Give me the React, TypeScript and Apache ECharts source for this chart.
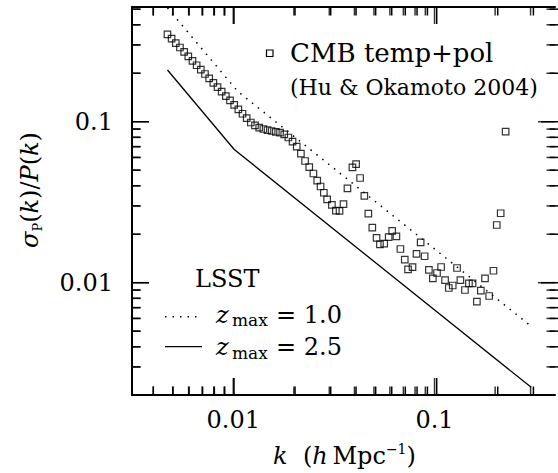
import React, { useEffect, useRef } from 'react';
import * as echarts from 'echarts';

// CMB temp+pol forecast (Hu & Okamoto 2004)
const cmbK = [
  0.004709, 0.004938, 0.00518, 0.005433, 0.005699, 0.005977, 0.00627, 0.006576, 0.006898, 0.007235,
  0.007589, 0.00796, 0.008349, 0.008757, 0.009185, 0.009632, 0.010102, 0.010597, 0.011114, 0.011657,
  0.012227, 0.012823, 0.013451, 0.014109, 0.014798, 0.015521, 0.016278, 0.017076, 0.017909, 0.018785,
  0.019702, 0.020664, 0.021677, 0.022735, 0.023845, 0.02501,
  0.02612, 0.02714, 0.02818, 0.02926, 0.0309, 0.03234, 0.03372, 0.03528, 0.03692, 0.03908,
  0.04076, 0.04266, 0.04479, 0.04688, 0.04906, 0.05151, 0.05354, 0.05622, 0.05917, 0.06157,
  0.06465, 0.06766, 0.07112, 0.07384, 0.07772, 0.08133, 0.0853, 0.08927, 0.09373, 0.09809,
  0.10287, 0.1078, 0.1128, 0.1177, 0.1231, 0.1293, 0.1344, 0.1416, 0.1482, 0.1545,
  0.1623, 0.1698, 0.1781, 0.1868, 0.1962, 0.2037, 0.2131, 0.2255,
];
const cmbSigma = [
  0.349, 0.3278, 0.3078, 0.289, 0.2714, 0.2544, 0.2389, 0.2243, 0.2107, 0.1979,
  0.1857, 0.1744, 0.1638, 0.1538, 0.1444, 0.1356, 0.1274, 0.1194, 0.1121, 0.1054,
  0.0989, 0.095, 0.092, 0.0901, 0.0886, 0.0876, 0.0866, 0.0856, 0.0835, 0.0798,
  0.0753, 0.0701, 0.0634, 0.057, 0.0523, 0.0477, 0.0431, 0.0396, 0.0362, 0.0329,
  0.0304, 0.028, 0.0279, 0.0308, 0.0386, 0.0521, 0.0546, 0.0447, 0.0346, 0.0269,
  0.022, 0.019, 0.0173, 0.0175, 0.0192, 0.021, 0.0194, 0.0162, 0.0139, 0.0121,
  0.0125, 0.0151, 0.0178, 0.0146, 0.012, 0.01065, 0.01149, 0.01252, 0.01039, 0.00927,
  0.00961, 0.01234, 0.01039, 0.00901, 0.00992, 0.00992, 0.00762, 0.00892, 0.01065, 0.00827,
  0.01187, 0.02283, 0.027, 0.0867,
];

// LSST, z_max = 1.0 (dotted)
const lsst10K = [0.00471, 0.01051, 0.3];
const lsst10Sigma = [0.51, 0.1545, 0.0054];
// LSST, z_max = 2.5 (solid)
const lsst25K = [0.00471, 0.01011, 0.302];
const lsst25Sigma = [0.2095, 0.0672, 0.00224];

// axes
const xMin = 0.003139;
const xMax = 0.3967;
const yMin = 0.002007;
const yMax = 0.5159;
const xTickValues = [0.01, 0.1];
const xTickLabels = ['0.01', '0.1'];
const yTickValues = [0.01, 0.1];
const yTickLabels = ['0.01', '0.1'];
const xMinorTicks = [0.004, 0.005, 0.006, 0.007, 0.008, 0.009, 0.02, 0.03, 0.04, 0.05, 0.06, 0.07, 0.08, 0.09, 0.2, 0.3];
const yMinorTicks = [
  0.003, 0.004, 0.005, 0.006, 0.007, 0.008, 0.009,
  0.02, 0.03, 0.04, 0.05, 0.06, 0.07, 0.08, 0.09,
  0.2, 0.3, 0.4, 0.5,
];

const FONT = "DejaVu Serif";
const W = 558;
const H = 473;
const GL = 132;
const GR = 0;
const GT = 7;
const GB = 78;
const MAJOR = 17;
const MINOR = 8.5;
const TW = 1.5;
const TC = '#000';

function makeFormatter(values: number[], labels: string[]) {
  return (v: number) => {
    for (let i = 0; i < values.length; i++) {
      if (Math.abs(Math.log10(v) - Math.log10(values[i])) < 1e-6) return labels[i];
    }
    return '';
  };
}

const txt = (x: number, y: number, text: string, font: string) => ({
  type: 'text', x, y, silent: true,
  style: { text, font, fill: '#000', align: 'left', verticalAlign: 'middle', textAlign: 'left', textVerticalAlign: 'middle' },
});

const tickSeries = (data: number[][], size: number[], offset: number[]) => ({
  type: 'scatter', silent: true, clip: false,
  data, symbol: 'rect', symbolSize: size, symbolOffset: offset,
  itemStyle: { color: TC },
});

export default function App() {
  const ref = useRef<HTMLDivElement>(null);

  useEffect(() => {
    if (!ref.current) return;
    const chart = echarts.init(ref.current, undefined, { renderer: 'svg' });

    const axisLine = { show: true, lineStyle: { color: '#000', width: 2 } };
    const labelStyle = { fontFamily: FONT, fontSize: 24, color: '#000' };

    // frame tick decorations (same log mapping as the axes)
    const left = GL, right = W - GR, top = GT, bottom = H - GB;
    const lx0 = Math.log10(xMin), lx1 = Math.log10(xMax);
    const ly0 = Math.log10(yMin), ly1 = Math.log10(yMax);
    const px = (v: number) => left + ((Math.log10(v) - lx0) / (lx1 - lx0)) * (right - left);
    const py = (v: number) => bottom - ((Math.log10(v) - ly0) / (ly1 - ly0)) * (bottom - top);
    const tickGraphics: any[] = [];
    const seg = (x1: number, y1: number, x2: number, y2: number) =>
      tickGraphics.push({ type: 'line', silent: true, shape: { x1, y1, x2, y2 }, style: { stroke: TC, lineWidth: TW } });
    const addX = (v: number, len: number) => { const x = px(v); seg(x, bottom, x, bottom - len); seg(x, top, x, top + len); };
    const addY = (v: number, len: number) => { const y = py(v); seg(left, y, left + len, y); seg(right, y, right - len, y); };
    xTickValues.forEach((v) => addX(v, MAJOR));
    xMinorTicks.forEach((v) => addX(v, MINOR));
    yTickValues.forEach((v) => addY(v, MAJOR));
    yMinorTicks.forEach((v) => addY(v, MINOR));

    const option: any = {
      animation: false,
      backgroundColor: '#fff',
      grid: { left: GL, right: GR, top: GT, bottom: GB, containLabel: false },
      xAxis: [
        {
          type: 'log', min: xMin, max: xMax, position: 'bottom',
          axisLine, axisTick: { show: false },
          axisLabel: { ...labelStyle, margin: 13, formatter: makeFormatter(xTickValues, xTickLabels) },
          splitLine: { show: false },
        },
        {
          type: 'log', min: xMin, max: xMax, position: 'top',
          axisLine, axisTick: { show: false }, axisLabel: { show: false }, splitLine: { show: false },
        },
      ],
      yAxis: [
        {
          type: 'log', min: yMin, max: yMax, position: 'left',
          axisLine, axisTick: { show: false },
          axisLabel: { ...labelStyle, margin: 19, formatter: makeFormatter(yTickValues, yTickLabels) },
          splitLine: { show: false },
        },
        {
          type: 'log', min: yMin, max: yMax, position: 'right',
          axisLine: { show: false }, axisTick: { show: false }, axisLabel: { show: false }, splitLine: { show: false },
        },
      ],
      series: [
        {
          type: 'line', name: 'zmax10',
          data: lsst10K.map((k, i) => [k, lsst10Sigma[i]]),
          showSymbol: false, symbol: 'none',
          lineStyle: { color: '#000', width: 1.5, type: [1.5, 6] },
        },
        {
          type: 'line', name: 'zmax25',
          data: lsst25K.map((k, i) => [k, lsst25Sigma[i]]),
          showSymbol: false, symbol: 'none',
          lineStyle: { color: '#000', width: 1.3 },
        },
        {
          type: 'scatter', name: 'CMB temp+pol',
          data: cmbK.map((k, i) => [k, cmbSigma[i]]),
          symbol: 'rect', symbolSize: 6.5,
          itemStyle: { color: 'rgba(255,255,255,0)', borderColor: '#000', borderWidth: 1.2 },
        },
        tickSeries(xTickValues.map((v) => [v, yMin]), [TW, MAJOR], [0, -MAJOR / 2]),
        tickSeries(xTickValues.map((v) => [v, yMax]), [TW, MAJOR], [0, MAJOR / 2]),
        tickSeries(yTickValues.map((v) => [xMin, v]), [MAJOR, TW], [MAJOR / 2, 0]),
        tickSeries(yTickValues.map((v) => [xMax, v]), [MAJOR, TW], [-MAJOR / 2, 0]),
        tickSeries(xMinorTicks.map((v) => [v, yMin]), [TW, MINOR], [0, -MINOR / 2]),
        tickSeries(xMinorTicks.map((v) => [v, yMax]), [TW, MINOR], [0, MINOR / 2]),
        tickSeries(yMinorTicks.map((v) => [xMin, v]), [MINOR, TW], [MINOR / 2, 0]),
        tickSeries(yMinorTicks.map((v) => [xMax, v]), [MINOR, TW], [-MINOR / 2, 0]),
      ],
      graphic: [
        ...tickGraphics,
        {
          type: 'rect', shape: { x: 266.5, y: 50, width: 6.5, height: 6.5 }, silent: true,
          style: { fill: 'none', stroke: '#000', lineWidth: 1.2 },
        },
        txt(290, 53, 'CMB temp+pol', `26px ${FONT}`),
        txt(290, 87, '(Hu & Okamoto 2004)', `22px ${FONT}`),
        txt(195, 279, 'LSST', `24px ${FONT}`),
        {
          type: 'line', shape: { x1: 165, y1: 316.7, x2: 202, y2: 316.7 }, silent: true,
          style: { stroke: '#000', lineWidth: 1.5, lineDash: [1.5, 6] },
        },
        {
          type: 'line', shape: { x1: 165, y1: 346.7, x2: 202, y2: 346.7 }, silent: true,
          style: { stroke: '#000', lineWidth: 1.3 },
        },
        txt(216, 314.5, 'z', `italic 24px ${FONT}`),
        txt(232, 320, 'max', `17px ${FONT}`),
        txt(276, 314.5, '= 1.0', `24px ${FONT}`),
        txt(216, 347, 'z', `italic 24px ${FONT}`),
        txt(232, 352.5, 'max', `17px ${FONT}`),
        txt(276, 347, '= 2.5', `24px ${FONT}`),
        {
          type: 'text', x: 344.5, y: 456, silent: true,
          style: {
            text: '{i|k}{r|  (}{i|h}{r|\u2009Mpc}{u|\u22121}{r|)}',
            align: 'center', verticalAlign: 'middle', textAlign: 'center', textVerticalAlign: 'middle',
            fill: '#000',
            rich: {
              i: { fontFamily: FONT, fontStyle: 'italic', fontSize: 24, lineHeight: 28, fill: '#000' },
              r: { fontFamily: FONT, fontSize: 24, lineHeight: 28, fill: '#000' },
              u: { fontFamily: FONT, fontSize: 14, lineHeight: 14, verticalAlign: 'top', fill: '#000' },
            },
          },
        },
        {
          type: 'text', x: 30, y: 190, rotation: Math.PI / 2, silent: true,
          style: {
            text: '{s|\u03c3}{p|P}{r|(}{i|k}{r|)/}{i|P}{r|(}{i|k}{r|)}',
            align: 'center', verticalAlign: 'middle', textAlign: 'center', textVerticalAlign: 'middle',
            fill: '#000',
            rich: {
              s: { fontFamily: FONT, fontStyle: 'italic', fontSize: 24, lineHeight: 28, fill: '#000' },
              i: { fontFamily: FONT, fontStyle: 'italic', fontSize: 24, lineHeight: 28, fill: '#000' },
              r: { fontFamily: FONT, fontSize: 24, lineHeight: 28, fill: '#000' },
              p: { fontFamily: FONT, fontSize: 13, lineHeight: 13, verticalAlign: 'bottom', fill: '#000' },
            },
          },
        },
      ],
    };

    chart.setOption(option);
    return () => chart.dispose();
  }, []);

  return (
    <div
      ref={ref}
      style={{ position: 'fixed', left: 0, top: 0, width: W, height: H, background: '#fff' }}
    />
  );
}
